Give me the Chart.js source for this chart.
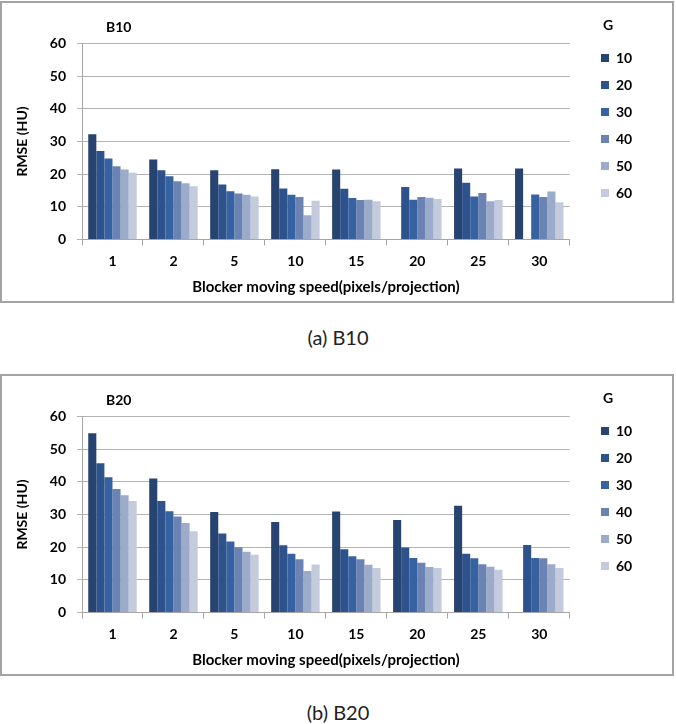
<!DOCTYPE html>
<html>
<head>
<meta charset="utf-8">
<script src="https://cdn.jsdelivr.net/npm/chart.js@4/dist/chart.umd.min.js"></script>
<style>
    body { margin: 0; background: #fff; width: 676px; height: 724px; position: relative; overflow: hidden; }
    .frame { position: absolute; left: 0; width: 674px; height: 302px; border: 2px solid #a3a3a3; box-sizing: border-box; }
    .frame canvas { position: absolute; left: 0; top: 0; }
    .caption { position: absolute; left: 0; width: 676px; text-align: center; font-family: Lato, sans-serif; font-size: 20px; color: #222; }
</style>
</head>
<body>
<div class="frame" style="top:1px"><canvas id="b10Chart" width="670" height="298"></canvas></div>
<div class="caption" style="top:325px">(a) B10</div>
<div class="frame" style="top:374px"><canvas id="b20Chart" width="670" height="298"></canvas></div>
<div class="caption" style="top:700px">(b) B20</div>
<script>
// blocker moving speed (pixels/projection)
const speeds = ['1', '2', '5', '10', '15', '20', '25', '30'];
const gLabels = ['10', '20', '30', '40', '50', '60'];
const yTicks = [0, 10, 20, 30, 40, 50, 60];

// B10, one array per G
const b10G10 = [32.2, 24.5, 21.2, 21.5, 21.4, null, 21.7, 21.7];
const b10G20 = [27.1, 21.2, 16.8, 15.6, 15.5, 16.1, 17.4, null];
const b10G30 = [24.8, 19.4, 14.8, 13.7, 12.7, 12.2, 13.2, 13.8];
const b10G40 = [22.4, 17.8, 14.1, 13.0, 12.1, 13.0, 14.2, 13.0];
const b10G50 = [21.4, 17.2, 13.7, 7.4, 12.2, 12.8, 11.7, 14.7];
const b10G60 = [20.4, 16.3, 13.2, 11.9, 11.7, 12.4, 12.1, 11.4];

// B20
const b20G10 = [54.9, 41.0, 30.8, 27.7, 30.9, 28.3, 32.7, null];
const b20G20 = [45.7, 34.1, 24.2, 20.6, 19.4, 19.9, 18.0, 20.7];
const b20G30 = [41.4, 31.0, 21.7, 18.0, 17.2, 16.7, 16.6, 16.7];
const b20G40 = [37.8, 29.4, 20.0, 16.3, 16.3, 15.2, 14.8, 16.6];
const b20G50 = [35.9, 27.4, 18.6, 12.7, 14.6, 13.9, 14.0, 14.8];
const b20G60 = [34.1, 24.9, 17.7, 14.7, 13.6, 13.6, 13.1, 13.6];

const colors = ['#27436f', '#2d528c', '#3662a1', '#6b83b3', '#9babc9', '#c3cbdd'];

Chart.defaults.font.family = 'Lato, sans-serif';
Chart.defaults.color = '#000';

// move title and legend to where the original has them
const placeBoxes = {
    id: 'placeBoxes',
    afterLayout(chart) {
        chart.titleBlock.left = 104;
        const lg = chart.legend;
        lg.left = 586;
        lg.width = 40;
        lg.right = 668;
    }
};

function makeChart(id, title, series) {
    const ctx = document.getElementById(id).getContext('2d');
    new Chart(ctx, {
        type: 'bar',
        data: {
            labels: speeds,
            datasets: series.map(function(values, i) {
                return {
                    label: gLabels[i],
                    data: values,
                    backgroundColor: colors[i],
                    borderWidth: 0,
                    categoryPercentage: 0.795,
                    barPercentage: 1.0
                };
            })
        },
        options: {
            responsive: false,
            animation: false,
            layout: { padding: { left: 0, top: 0, right: 48, bottom: 0 } },
            plugins: {
                title: {
                    display: true,
                    text: title,
                    align: 'start',
                    font: { size: 14, weight: 'bold' },
                    padding: { top: 15.6, bottom: 8.1 }
                },
                legend: {
                    position: 'right',
                    align: 'start',
                    title: {
                        display: true,
                        text: 'G',
                        font: { size: 14, weight: 'bold' },
                        padding: { top: 15, bottom: 3.2 }
                    },
                    labels: {
                        boxWidth: 8,
                        boxHeight: 8,
                        padding: 13,
                        font: { size: 14, weight: 'bold' }
                    }
                },
                tooltip: { enabled: false }
            },
            scales: {
                x: {
                    grid: { offset: true, drawOnChartArea: false, tickLength: 6, color: '#a6a6a6' },
                    border: { color: '#a6a6a6' },
                    ticks: { font: { size: 14, weight: 'bold' }, padding: 8 },
                    title: {
                        display: true,
                        text: 'Blocker moving speed(pixels/projection)',
                        font: { size: 15, weight: 'bold' },
                        padding: { top: 0, bottom: 5 }
                    },
                    afterFit: function(scale) { scale.height = 61.5; }
                },
                y: {
                    min: yTicks[0],
                    max: yTicks[yTicks.length - 1],
                    grid: { color: '#b3b3b3', tickLength: 5 },
                    border: { color: '#a6a6a6' },
                    ticks: { stepSize: 10, font: { size: 14, weight: 'bold' }, padding: 11 },
                    title: {
                        display: true,
                        text: 'RMSE (HU)',
                        font: { size: 14, weight: 'bold' },
                        padding: { top: 12, bottom: 0 }
                    },
                    afterFit: function(scale) { scale.width = 80; }
                }
            }
        },
        plugins: [placeBoxes]
    });
}

document.addEventListener('DOMContentLoaded', function() {
    makeChart('b10Chart', 'B10', [b10G10, b10G20, b10G30, b10G40, b10G50, b10G60]);
    makeChart('b20Chart', 'B20', [b20G10, b20G20, b20G30, b20G40, b20G50, b20G60]);
});
</script>
</body>
</html>
